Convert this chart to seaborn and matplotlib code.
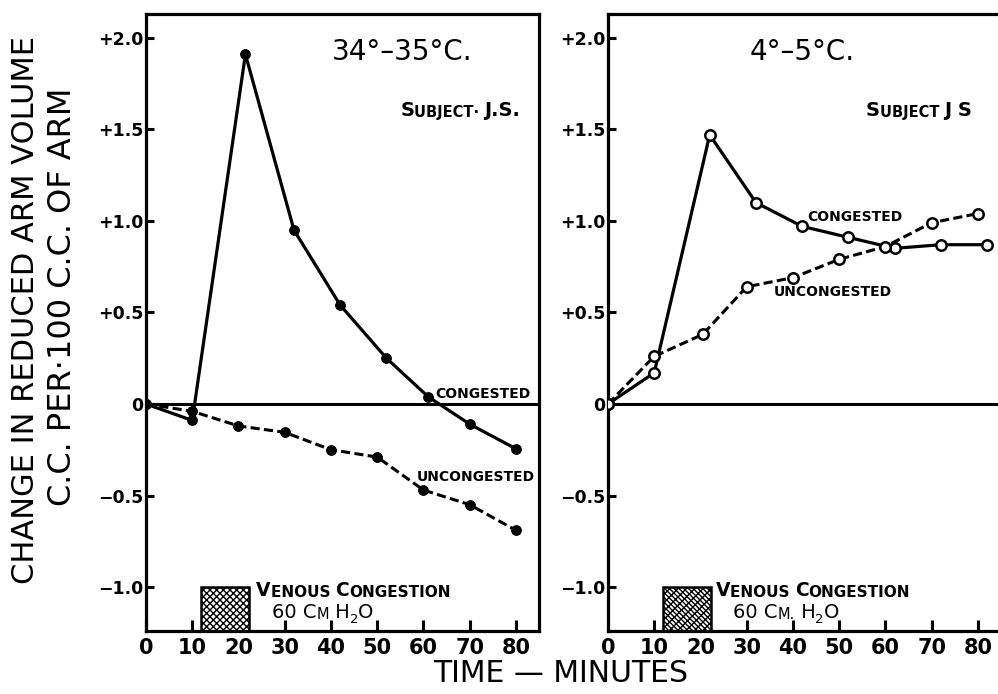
import numpy as np
import pandas as pd
import seaborn as sns
import matplotlib.pyplot as plt

# readings (minutes, change in cc per 100 cc of arm)
warm_cong_t = [0, 10, 21.5, 32, 42, 52, 61, 70, 80]
warm_cong_v = [0, -0.09, 1.91, 0.95, 0.54, 0.25, 0.04, -0.11, -0.245]
warm_uncong_t = [0, 10, 20, 30, 40, 50, 60, 70, 80]
warm_uncong_v = [0, -0.04, -0.12, -0.155, -0.25, -0.29, -0.47, -0.55, -0.69]

cold_cong_t = [0, 10, 22, 32, 42, 52, 62, 72, 82]
cold_cong_v = [0, 0.17, 1.47, 1.10, 0.97, 0.91, 0.85, 0.87, 0.87]
cold_uncong_t = [0, 10, 20.5, 30, 40, 50, 60, 70, 80]
cold_uncong_v = [0, 0.26, 0.38, 0.64, 0.69, 0.79, 0.86, 0.99, 1.04]

congestion_start, congestion_end = 12, 22.3

ytick_vals = [-1.0, -0.5, 0, 0.5, 1.0, 1.5, 2.0]
ytick_labels = ["\u22121.0", "\u22120.5", "0", "+0.5", "+1.0", "+1.5", "+2.0"]
xtick_vals = [0, 10, 20, 30, 40, 50, 60, 70, 80]

sns.set_style("ticks")
plt.rcParams['font.family'] = ['DejaVu Sans']
plt.rcParams['hatch.linewidth'] = 1.0
for k in ['text.color', 'axes.labelcolor', 'xtick.color', 'ytick.color', 'axes.edgecolor']:
    plt.rcParams[k] = 'black'

fig = plt.figure(figsize=(9.98, 6.94), dpi=100)
ax1 = fig.add_axes([0.1463, 0.0908, 0.3938, 0.889])
ax2 = fig.add_axes([0.6092, 0.0908, 0.3938, 0.889])

YMIN, YMAX = -1.24, 2.13


def chained(ax, x, y, parts, weight='bold'):
    # pieces of text set side by side: (text, size, vertical shift in points)
    t = ax.text(x, y, parts[0][0], fontsize=parts[0][1], fontweight=weight,
                va='bottom', ha='left')
    for txt, size, dy in parts[1:]:
        t = ax.annotate(txt, xy=(1, 0), xycoords=t, xytext=(0, dy),
                        textcoords='offset points', fontsize=size,
                        fontweight=weight, va='bottom', ha='left')
    return t


def style_axes(ax):
    ax.set_xlim(0, 85)
    ax.set_ylim(YMIN, YMAX)
    ax.set_xticks(xtick_vals)
    ax.set_xticklabels([str(v) for v in xtick_vals], fontsize=15, fontweight='bold')
    ax.set_yticks(ytick_vals)
    ax.set_yticklabels(ytick_labels, fontsize=12.5, fontweight='bold')
    ax.tick_params(axis='x', direction='in', length=8, width=2.2, pad=5)
    ax.tick_params(axis='y', direction='in', length=6, width=2.2, pad=2)
    for s in ax.spines.values():
        s.set_linewidth(2.3)
        s.set_visible(True)
    ax.axhline(0, color='black', lw=2.2, zorder=1)
    ax.set_xlabel("")
    ax.set_ylabel("")


def draw_box(ax, hatch):
    ax.bar([congestion_start], [-1.0 - YMIN], bottom=YMIN,
           width=congestion_end - congestion_start, align='edge',
           facecolor='white', edgecolor='black', hatch=hatch, lw=1.8, zorder=2)


# left: 34-35 C
sns.lineplot(x=warm_cong_t, y=warm_cong_v, ax=ax1, color='black', lw=2.3,
             marker='o', markersize=7, markerfacecolor='black',
             markeredgecolor='black', sort=False, zorder=3)
sns.lineplot(x=warm_uncong_t, y=warm_uncong_v, ax=ax1, color='black', lw=2.2,
             linestyle=(0, (3, 1.4)), marker='o', markersize=7,
             markerfacecolor='black', markeredgecolor='black', sort=False, zorder=3)
style_axes(ax1)
draw_box(ax1, 'xxxxx')

ax1.text(55.5, 1.92, "34\u00b0\u201335\u00b0C.", fontsize=20, ha='center', va='center')
chained(ax1, 55, 1.55, [("S", 14), ("UBJECT\u00b7 ", 10.5, 0), ("J.S.", 14, 0)])
ax1.text(62.5, 0.055, "CONGESTED", fontsize=10, fontweight='bold', va='center')
ax1.text(58.5, -0.40, "UNCONGESTED", fontsize=10, fontweight='bold', va='center')
chained(ax1, 23.8, -1.07, [("V", 13.5), ("ENOUS ", 11, 0), ("C", 13.5, 0), ("ONGESTION", 11, 0)])
chained(ax1, 27.2, -1.19, [("60 C", 14), ("M", 10.5, 0), (" H", 14, 0), ("2", 9.5, -3), ("O", 14, 3)],
        weight='normal')

# right: 4-5 C
sns.lineplot(x=cold_cong_t, y=cold_cong_v, ax=ax2, color='black', lw=2.3,
             marker='o', markersize=7.5, markerfacecolor='white',
             markeredgecolor='black', markeredgewidth=1.8, sort=False, zorder=3)
sns.lineplot(x=cold_uncong_t, y=cold_uncong_v, ax=ax2, color='black', lw=2.2,
             linestyle=(0, (3, 1.4)), marker='o', markersize=7.5,
             markerfacecolor='white', markeredgecolor='black',
             markeredgewidth=1.8, sort=False, zorder=3)
style_axes(ax2)
draw_box(ax2, '\\\\\\xxxx')

ax2.text(42, 1.92, "4\u00b0\u20135\u00b0C.", fontsize=20, ha='center', va='center')
chained(ax2, 55.8, 1.55, [("S", 14), ("UBJECT ", 10.5, 0), ("J S", 14, 0)])
ax2.text(43, 1.02, "CONGESTED", fontsize=10, fontweight='bold', va='center')
ax2.text(35.8, 0.61, "UNCONGESTED", fontsize=10, fontweight='bold', va='center')
chained(ax2, 23.3, -1.07, [("V", 13.5), ("ENOUS ", 11, 0), ("C", 13.5, 0), ("ONGESTION", 11, 0)])
chained(ax2, 27, -1.19, [("60 C", 14), ("M.", 10.5, 0), (" H", 14, 0), ("2", 9.5, -3), ("O", 14, 3)],
        weight='normal')

fig.text(0.026, 0.553, "CHANGE IN REDUCED ARM VOLUME", rotation=90,
         fontsize=22, ha='center', va='center')
fig.text(0.063, 0.572, "C.C. PER\u00b7100 C.C. OF ARM", rotation=90,
         fontsize=23, ha='center', va='center')
fig.text(0.562, 0.030, "TIME \u2014 MINUTES", fontsize=21.5, ha='center', va='center')

fig.savefig("out.png", dpi=100)
